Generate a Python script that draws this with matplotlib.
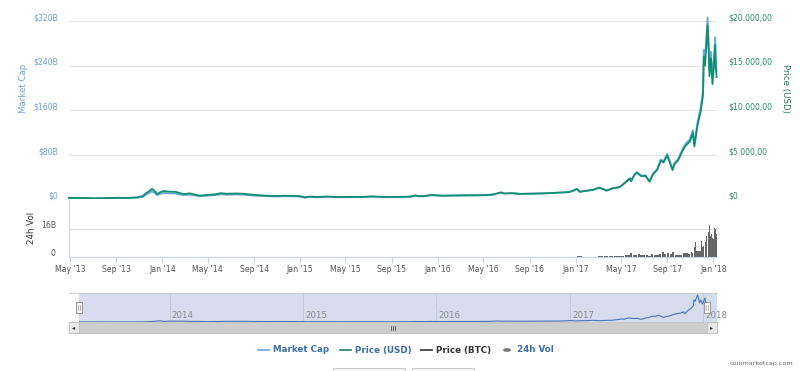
import matplotlib
matplotlib.use('Agg')
import matplotlib.pyplot as plt
import matplotlib.dates as mdates
import matplotlib.transforms as mtransforms
from matplotlib.patches import Rectangle, Circle
from matplotlib.lines import Line2D
import numpy as np
import pandas as pd

plt.rcParams['font.family'] = ['DejaVu Sans']

# ---------------- data ----------------
dates = ["2013-04-28", "2013-06-01", "2013-07-05", "2013-08-01", "2013-09-01", "2013-10-01",
         "2013-10-25", "2013-11-10", "2013-11-18", "2013-11-25", "2013-12-04", "2013-12-10",
         "2013-12-18", "2013-12-26", "2014-01-05", "2014-01-20", "2014-02-05", "2014-02-25",
         "2014-03-15", "2014-04-10", "2014-04-25", "2014-05-20", "2014-06-05", "2014-06-20",
         "2014-07-15", "2014-08-05", "2014-08-20", "2014-09-20", "2014-10-10", "2014-11-05",
         "2014-11-20", "2014-12-10", "2014-12-31", "2015-01-14", "2015-01-25", "2015-02-15",
         "2015-03-15", "2015-04-15", "2015-05-15", "2015-06-15", "2015-07-10", "2015-08-20",
         "2015-09-20", "2015-10-20", "2015-11-04", "2015-11-10", "2015-11-25", "2015-12-15",
         "2016-01-15", "2016-02-15", "2016-03-15", "2016-04-15", "2016-05-15", "2016-05-30",
         "2016-06-17", "2016-06-25", "2016-07-15", "2016-08-05", "2016-09-15", "2016-10-15",
         "2016-11-15", "2016-12-15", "2016-12-28", "2017-01-04", "2017-01-12", "2017-01-25",
         "2017-02-15", "2017-03-05", "2017-03-24", "2017-04-10", "2017-04-28", "2017-05-10",
         "2017-05-25", "2017-05-28", "2017-06-06", "2017-06-12", "2017-06-25", "2017-07-05",
         "2017-07-16", "2017-07-25", "2017-08-05", "2017-08-15", "2017-08-22", "2017-09-01",
         "2017-09-15", "2017-09-20", "2017-09-30", "2017-10-12", "2017-10-20", "2017-10-31",
         "2017-11-08", "2017-11-12", "2017-11-20", "2017-11-29", "2017-12-05", "2017-12-07",
         "2017-12-10", "2017-12-13", "2017-12-17", "2017-12-20", "2017-12-22", "2017-12-26",
         "2017-12-30", "2018-01-03", "2018-01-06", "2018-01-08", "2018-01-10"]

price_usd = [135, 120, 80, 100, 135, 125,
             190, 320, 650, 820, 1150, 950,
             560, 760, 900, 820, 800, 560,
             630, 380, 450, 520, 650, 590,
             620, 590, 510, 410, 360, 340,
             370, 350, 320, 180, 270, 230,
             280, 220, 240, 240, 290, 230,
             230, 270, 400, 330, 320, 450,
             380, 400, 415, 425, 455, 530,
             750, 620, 660, 580, 610, 640,
             710, 780, 970, 1130, 800, 900,
             1010, 1270, 940, 1200, 1330, 1750,
             2300, 2000, 2700, 2950, 2550, 2600,
             1950, 2750, 3250, 4300, 4100, 4900,
             3250, 3900, 4350, 5450, 6000, 6450,
             7400, 5900, 8200, 9900, 11700, 16000,
             15000, 16800, 19500, 16500, 13800, 15800,
             12900, 15100, 17300, 14600, 13700]

market_cap_b = [1.5, 1.36, 0.92, 1.16, 1.58, 1.48,
                2.26, 3.84, 7.8, 9.9, 13.9, 11.5,
                6.8, 9.3, 11.0, 10.0, 9.8, 6.9,
                7.9, 4.8, 5.7, 6.7, 8.4, 7.6,
                8.1, 7.7, 6.7, 5.4, 4.8, 4.6,
                5.0, 4.8, 4.4, 2.5, 3.7, 3.2,
                3.9, 3.1, 3.4, 3.4, 4.1, 3.3,
                3.4, 4.0, 5.9, 4.9, 4.8, 6.8,
                5.7, 6.1, 6.3, 6.5, 7.1, 8.2,
                11.7, 9.7, 10.4, 9.1, 9.7, 10.2,
                11.4, 12.5, 15.6, 18.2, 12.9, 14.5,
                16.4, 20.6, 15.3, 19.6, 21.7, 28.6,
                37.6, 32.7, 44.3, 48.4, 41.8, 42.8,
                32.1, 45.2, 53.6, 71.0, 67.7, 81.1,
                53.8, 64.5, 72.2, 90.5, 99.6, 107.4,
                123.6, 98.5, 136.9, 165.3, 196.0, 268.0,
                251.3, 281.4, 326.6, 276.4, 231.2, 265.1,
                216.5, 253.7, 290.6, 245.3, 230.2]

vol_dates = ["2016-12-01", "2016-12-15", "2017-01-05", "2017-01-19", "2017-02-02", "2017-02-16",
             "2017-03-02", "2017-03-16", "2017-03-30", "2017-04-13", "2017-04-27", "2017-05-04",
             "2017-05-11", "2017-05-18", "2017-05-25", "2017-06-01", "2017-06-08", "2017-06-15",
             "2017-06-22", "2017-06-29", "2017-07-06", "2017-07-13", "2017-07-20", "2017-07-27",
             "2017-08-03", "2017-08-10", "2017-08-17", "2017-08-24", "2017-08-31", "2017-09-07",
             "2017-09-14", "2017-09-21", "2017-09-28", "2017-10-05", "2017-10-12", "2017-10-19",
             "2017-10-26", "2017-11-02", "2017-11-06", "2017-11-10", "2017-11-13", "2017-11-17",
             "2017-11-21", "2017-11-25", "2017-11-29", "2017-12-02", "2017-12-05", "2017-12-07",
             "2017-12-09", "2017-12-11", "2017-12-13", "2017-12-15", "2017-12-17", "2017-12-19",
             "2017-12-21", "2017-12-22", "2017-12-24", "2017-12-26", "2017-12-28", "2017-12-30",
             "2018-01-01", "2018-01-03", "2018-01-05", "2018-01-07", "2018-01-09", "2018-01-10"]
vol_b = [0.1, 0.15, 0.4, 0.2, 0.15, 0.2,
         0.3, 0.4, 0.3, 0.3, 0.5, 0.8,
         1.0, 1.2, 2.0, 1.3, 1.4, 1.8,
         1.2, 1.0, 0.9, 0.8, 1.5, 0.9,
         1.3, 1.6, 2.8, 1.9, 2.3, 1.7,
         2.6, 1.3, 1.2, 1.1, 2.4, 2.0,
         1.9, 3.0, 2.5, 5.5, 8.5, 3.5,
         3.6, 3.4, 9.0, 5.5, 6.0, 13.0,
         13.5, 8.5, 12.0, 13.0, 12.8, 14.0,
         22.0, 18.5, 12.0, 13.0, 12.5, 11.0,
         10.2, 16.5, 23.8, 16.0, 13.0, 17.0]

xtick_dates = ["2013-05-01", "2013-09-01", "2014-01-01", "2014-05-01", "2014-09-01",
               "2015-01-01", "2015-05-01", "2015-09-01", "2016-01-01", "2016-05-01",
               "2016-09-01", "2017-01-01", "2017-05-01", "2017-09-01", "2018-01-01"]
xtick_labels = ["May '13", "Sep '13", "Jan '14", "May '14", "Sep '14", "Jan '15", "May '15",
                "Sep '15", "Jan '16", "May '16", "Sep '16", "Jan '17", "May '17", "Sep '17",
                "Jan '18"]

mcap_ticks = [0, 80, 160, 240, 320]
mcap_labels = ["$0", "$80B", "$160B", "$240B", "$320B"]
price_ticks = [0, 5000, 10000, 15000, 20000]
price_labels = ["$0", "$5.000,00", "$10.000,00", "$15.000,00", "$20.000,00"]
vol_ticks = [0, 16]
vol_labels = ["0", "16B"]

nav_years = ["2014-01-01", "2015-01-01", "2016-01-01", "2017-01-01", "2018-01-01"]
nav_labels = ["2014", "2015", "2016", "2017", "2018"]

legend_names = ["Market Cap", "Price (USD)", "Price (BTC)", "24h Vol"]

# ---------------- styling ----------------
W, H = 800, 371
fig = plt.figure(figsize=(W / 100, H / 100), dpi=100)

C_MCAP = '#6aa7df'
C_PRICE = '#0f8f70'
C_LEFT_TXT = '#6ea3d3'
C_RIGHT_TXT = '#2b8a6d'
C_GRID = '#e6e6e6'
C_AXIS = '#ccd6eb'
FS = 5.6


def ax_px(l, t, r, b, **kw):
    return fig.add_axes([l / W, 1 - b / H, (r - l) / W, (b - t) / H], **kw)


def px_box(l, t, r, b):
    return (l / W, 1 - b / H, (r - l) / W, (b - t) / H)


d = mdates.date2num(pd.to_datetime(dates))
vd = mdates.date2num(pd.to_datetime(vol_dates))
xt = mdates.date2num(pd.to_datetime(xtick_dates))
x0 = mdates.date2num(pd.Timestamp("2013-04-28"))
x1 = mdates.date2num(pd.Timestamp("2018-01-11"))

up = mtransforms.ScaledTranslation(0, 4 / 100, fig.dpi_scale_trans)

# main axis (market cap)
ax = ax_px(69, 21, 717, 199)
ax.set_xlim(x0, x1)
ax.set_ylim(0, 320)
for s in ax.spines.values():
    s.set_visible(False)
ax.set_xticks([])
ax.set_yticks(mcap_ticks)
ax.set_yticklabels(mcap_labels)
ax.tick_params(axis='y', length=0, pad=8, labelsize=FS, labelcolor=C_LEFT_TXT)
for lab in ax.get_yticklabels():
    lab.set_transform(lab.get_transform() + up)
ax.grid(axis='y', color=C_GRID, lw=0.8)
ax.set_axisbelow(True)
ax.plot(d, market_cap_b, color=C_MCAP, lw=1.3, clip_on=False, zorder=2)

# price axis
ax2 = ax.twinx()
ax2.set_ylim(0, 20000)
for s in ax2.spines.values():
    s.set_visible(False)
ax2.set_yticks(price_ticks)
ax2.set_yticklabels(price_labels)
ax2.tick_params(axis='y', length=0, pad=8, labelsize=FS, labelcolor=C_RIGHT_TXT)
for lab in ax2.get_yticklabels():
    lab.set_transform(lab.get_transform() + up)
ax2.plot(d, price_usd, color=C_PRICE, lw=1.3, clip_on=False, zorder=3)

fig.text(23.5 / W, 1 - 88 / H, "Market Cap", rotation=90, ha='center', va='center',
         fontsize=6.2, color=C_LEFT_TXT)
fig.text(785 / W, 1 - 88 / H, "Price (USD)", rotation=270, ha='center', va='center',
         fontsize=6.2, color='#1f7a63')

# volume axis
axv = ax_px(69, 199, 717, 257)
axv.set_xlim(x0, x1)
axv.set_ylim(0, 33.1)
for k in ['top', 'right']:
    axv.spines[k].set_visible(False)
axv.spines['left'].set_color(C_AXIS)
axv.spines['bottom'].set_color(C_AXIS)
axv.spines['left'].set_linewidth(0.8)
axv.spines['bottom'].set_linewidth(0.8)
axv.set_yticks(vol_ticks)
axv.set_yticklabels(vol_labels)
axv.tick_params(axis='y', length=0, pad=9.5, labelsize=FS, labelcolor='#555555')
for lab in axv.get_yticklabels():
    lab.set_transform(lab.get_transform() + up)
axv.grid(axis='y', color=C_GRID, lw=0.8)
axv.set_axisbelow(True)
axv.set_xticks(xt)
axv.set_xticklabels(xtick_labels)
axv.tick_params(axis='x', length=4, width=0.8, color=C_AXIS, pad=2, labelsize=FS,
                labelcolor='#555555')
widths = np.append(np.diff(vd), 1.0) * 0.85
axv.bar(vd, vol_b, width=widths, align='edge', color='#666666', edgecolor='none')

fig.text(31 / W, 1 - 228 / H, "24h Vol", rotation=90, ha='center', va='center',
         fontsize=6.2, color='#333333')

# navigator
nav = ax_px(79, 293, 717, 322)
nx0 = mdates.date2num(pd.Timestamp("2013-04-28"))
nx1 = mdates.date2num(pd.Timestamp("2018-02-08"))
nav.set_xlim(nx0, nx1)
nav.set_ylim(0, 350)
nav.set_facecolor('#d4dcee')
for s in nav.spines.values():
    s.set_visible(False)
nav.set_xticks([])
nav.set_yticks([])
ny = mdates.date2num(pd.to_datetime(nav_years))
for yv, yl in zip(ny, nav_labels):
    nav.axvline(yv, color='#c2c9db', lw=0.7)
    nav.text(yv + 6, 30, yl, fontsize=6.2, color='#8a8a8a', ha='left', va='bottom')
nav.plot(d, market_cap_b, color='#4a72b5', lw=0.8)

# navigator decorations (outline, handles, scrollbar)
fig.add_artist(Line2D([69 / W, 717 / W], [1 - 293 / H, 1 - 293 / H], color='#cccccc', lw=0.7))
for hx in (76, 704):
    fig.add_artist(Rectangle((hx / W, 1 - 313 / H), 6 / W, 11 / H, facecolor='#f4f4f4',
                             edgecolor='#888888', lw=0.6))
    for dx in (2.2, 3.8):
        fig.add_artist(Line2D([(hx + dx) / W] * 2, [1 - 310 / H, 1 - 305 / H],
                              color='#888888', lw=0.4))
fig.add_artist(Rectangle(px_box(69, 322, 717, 333)[:2], (717 - 69) / W, 11 / H,
                         facecolor='#cdcdcd', edgecolor='#bbbbbb', lw=0.5))
for bx in (69, 707):
    fig.add_artist(Rectangle((bx / W, 1 - 333 / H), 10 / W, 11 / H, facecolor='#e8e8e8',
                             edgecolor='#bbbbbb', lw=0.5))
fig.text(74 / W, 1 - 328 / H, "◂", fontsize=4.5, color='#333333', ha='center', va='center')
fig.text(712 / W, 1 - 328 / H, "▸", fontsize=4.5, color='#333333', ha='center', va='center')
for gx in (391, 393, 395):
    fig.add_artist(Line2D([gx / W] * 2, [1 - 330 / H, 1 - 325.5 / H], color='#333333', lw=0.5))

# legend
LEG_Y = 1 - 350 / H
C_LEG = '#3c6ea8'
leg_items = [(258, C_MCAP, C_LEG, 'line'), (340, '#1a7f66', C_LEG, 'line'),
             (421, '#333333', '#333333', 'line'), (502, '#777777', C_LEG, 'dot')]
for (lx, lc, tc, kind), name in zip(leg_items, legend_names):
    if kind == 'line':
        fig.add_artist(Line2D([lx / W, (lx + 11) / W], [LEG_Y, LEG_Y], color=lc, lw=1.2))
        tx = lx + 15
    else:
        fig.add_artist(Circle(((lx + 5) / W, LEG_Y), 4 / W, facecolor=lc, edgecolor='none'))
        tx = lx + 15
    fig.text(tx / W, LEG_Y, name, fontsize=6.3, fontweight='bold', color=tc,
             ha='left', va='center')

fig.text(793 / W, 1 - 363 / H, "coinmarketcap.com", fontsize=4.6, color='#666666',
         ha='right', va='center')

# range-selector buttons cut off at the bottom
for bl, br in ((333, 405), (412, 474)):
    fig.add_artist(Rectangle((bl / W, 1 - 375 / H), (br - bl) / W, 7 / H,
                             facecolor='#f3f3f3', edgecolor='#c8c8c8', lw=0.7))

fig.savefig('out.png', dpi=100)
